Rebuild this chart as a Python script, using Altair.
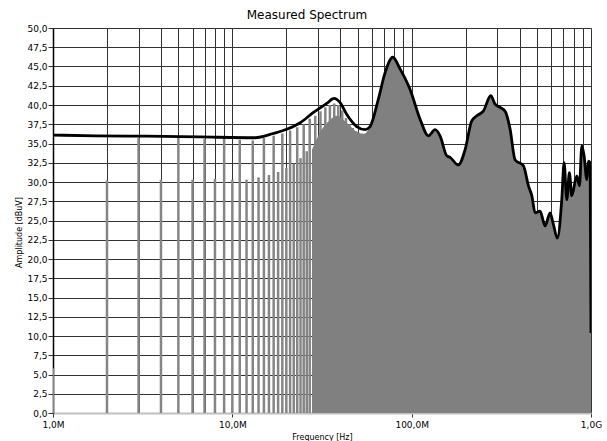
import altair as alt
import pandas as pd

# harmonic lines (MHz, dBuV)
harm_mhz = list(range(1, 28)) + [29, 31, 33, 35, 37, 39, 41, 43, 45, 47, 49, 51, 53, 55, 57]
harm_amp = [5.8, 30.2, 35.7, 30.3, 35.7, 30.3, 35.6, 30.4, 35.6, 30.3,
            35.5, 30.3, 35.4, 30.6, 35.7, 30.9, 36.0, 31.3, 36.3, 31.8,
            36.7, 32.4, 37.1, 33.1, 37.5, 34.0, 38.2,
            38.6, 39.2, 39.7, 40.0, 40.2, 40.0, 39.3, 38.3, 37.5, 37.0,
            36.6, 36.4, 36.3, 36.3, 36.6]

# envelope (MHz, dBuV)
env_mhz = [1.0, 1.74, 3.3, 6.6, 13.4, 16.9, 20.1, 23.9, 28.2, 33.6, 36.9, 39.9,
           43.4, 49.4, 55.0, 58.6, 65.2, 71.1, 78.5, 86.1, 97.9, 111.4, 124, 135,
           144, 157, 163.8, 182, 198.6, 216, 230.7, 251, 276, 292, 311, 332, 354,
           377, 420, 448, 468, 488, 520, 555, 591, 617, 649, 687, 708, 733, 758,
           781, 833, 862, 889, 915, 948, 967, 989, 1000]
env_amp = [36.1, 36.0, 35.95, 35.85, 35.75, 36.3, 36.85, 37.7, 39.0, 40.2, 40.85, 40.3,
           38.8, 37.2, 36.8, 37.2, 40.75, 44.2, 46.2, 44.7, 42.05, 38.15, 36.0, 36.8,
           36.0, 33.4, 33.2, 32.2, 34.2, 37.9, 38.6, 39.2, 41.2, 40.1, 39.7, 39.2, 36.85,
           32.9, 32.1, 29.5, 28.2, 26.0, 26.2, 24.3, 26.0, 24.5, 22.7, 27.7, 32.5, 27.7, 31.2,
           28.2, 30.8, 29.5, 34.7, 33.4, 30.3, 32.7, 32.5, 10.4]

# dense spectrum fill below the envelope (MHz, dBuV)
fill_mhz = [27.8, 30.9, 35.2, 38.1, 41.6, 45.2, 49.5, 54.0]
fill_amp = [34.2, 36.5, 38.1, 38.6, 38.1, 37.3, 36.5, 36.2]

y_ticks = [i * 2.5 for i in range(21)]
x_grid = [m * 10 ** e for e in (6, 7, 8) for m in range(1, 10)] + [1e9]

harm_df = pd.DataFrame({"f": [m * 1e6 for m in harm_mhz], "amp": harm_amp})
env_df = pd.DataFrame({"f": [m * 1e6 for m in env_mhz], "amp": env_amp})
area_f = [m * 1e6 for m in fill_mhz] + [m * 1e6 for m in env_mhz if m >= 58.6]
area_a = fill_amp + [a for m, a in zip(env_mhz, env_amp) if m >= 58.6]
area_df = pd.DataFrame({"f": area_f, "amp": area_a})

FONT = "DejaVu Sans"
decade = "abs(log(datum.value)/LN10 - round(log(datum.value)/LN10)) < 0.000001"

x_axis = alt.Axis(
    values=x_grid, title="Frequency [Hz]", grid=True, gridColor="#333333", gridWidth=1,
    tickColor="#333333", tickSize=4,
    tickOpacity={"condition": {"test": decade, "value": 1}, "value": 0},
    labelExpr="(" + decade + ") ? (datum.value >= 999000000 ? replace(format(datum.value/1e9, '.1f'), '.', ',') + 'G' : replace(format(datum.value/1e6, '.1f'), '.', ',') + 'M') : ''",
    labelOverlap=False, labelFlush=False, labelPadding=3, labelFont=FONT, labelFontSize=9,
    labelColor="#000000", domainColor="#c0c0c0", domainWidth=2,
    titleFont=FONT, titleFontSize=8, titleFontWeight="normal", titleColor="#000000",
    titleBaseline="alphabetic", titleY=26,
)
y_axis = alt.Axis(
    values=y_ticks, title="Amplitude [dBuV]", grid=True,
    gridColor={"condition": {"test": "datum.value === 0", "value": "#c0c0c0"}, "value": "#333333"},
    gridWidth=1,
    labelExpr="replace(format(datum.value, '.1f'), '.', ',')",
    tickSize=5, tickColor="#333333", labelPadding=1, labelFont=FONT, labelFontSize=9,
    labelColor="#000000", domainColor="#000000", domainWidth=1.5,
    titleFont=FONT, titleFontSize=8, titleFontWeight="normal", titleColor="#000000",
    titleX=-32, titleY=204, titleBaseline="alphabetic", titleAlign="center", titleAngle=270,
)

xs = alt.Scale(type="log", domain=[1e6, 1e9], nice=False)
ys = alt.Scale(domain=[0, 50], nice=False, zero=False)
X = alt.X("f:Q", scale=xs, axis=x_axis)
Y = alt.Y("amp:Q", scale=ys, axis=y_axis)

bars = alt.Chart(harm_df).mark_rule(color="#858585", strokeWidth=2.5, clip=True).encode(
    x=X, y=Y, y2=alt.datum(0)
)
area = alt.Chart(area_df).mark_area(color="#808080", clip=True, interpolate="monotone").encode(x=X, y=Y)
line = alt.Chart(env_df).mark_line(color="#000000", strokeWidth=2.8, strokeJoin="round",
                                   interpolate="monotone", clip=True).encode(x=X, y=Y)

chart = alt.layer(bars, area, line).properties(
    width=538, height=385,
    autosize=alt.AutoSizeParams(type="none"),
    padding={"left": 53, "top": 28, "right": 16, "bottom": 28},
    title=alt.TitleParams("Measured Spectrum", font=FONT, fontSize=12, fontWeight="normal",
                          color="#000000", offset=2, frame="group", dx=-15),
).configure_view(stroke=None).configure(background="white")

chart.save("out.html", embed_options={"renderer": "svg", "actions": False})
